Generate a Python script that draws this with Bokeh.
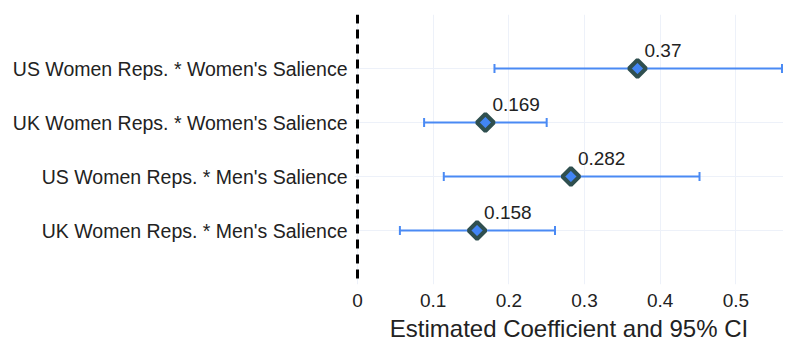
import math
from bokeh.plotting import figure
from bokeh.models import Range1d, FixedTicker, Span, ColumnDataSource
from bokeh.core.properties import value
from bokeh.embed import file_html
from bokeh.resources import INLINE

labels = ["US Women Reps. * Women's Salience",
          "UK Women Reps. * Women's Salience",
          "US Women Reps. * Men's Salience",
          "UK Women Reps. * Men's Salience"]
estimates = [0.37, 0.169, 0.282, 0.158]
ci_low = [0.181, 0.088, 0.114, 0.056]
ci_high = [0.561, 0.250, 0.452, 0.261]
x_ticks = [0, 0.1, 0.2, 0.3, 0.4, 0.5]
x_tick_labels = ["0", "0.1", "0.2", "0.3", "0.4", "0.5"]

n = len(labels)
ypos = [n - i for i in range(n)]

FONT = "Liberation Sans"
TXT = "#222222"
BLUE = "#4a8af4"
DARK = "#2f4f4f"
GRID = "#edf1f9"

src = ColumnDataSource(dict(
    y=ypos, est=estimates, lo=ci_low, hi=ci_high,
    txt=[f"{v:g}" for v in estimates],
))

p = figure(width=783, height=344, output_backend="svg", toolbar_location=None,
           x_range=Range1d(-0.004, 0.563), y_range=Range1d(0, n + 1),
           min_border_left=354, min_border_right=0, min_border_top=14,
           min_border_bottom=10)
p.outline_line_color = None
p.background_fill_color = "white"
p.border_fill_color = "white"

# axes
p.xaxis.ticker = FixedTicker(ticks=x_ticks)
p.xaxis.major_label_overrides = {t: l for t, l in zip(x_ticks, x_tick_labels)}
p.xaxis.axis_line_color = None
p.xaxis.major_tick_line_color = None
p.xaxis.minor_tick_line_color = None
p.xaxis.major_tick_out = 0
p.xaxis.major_tick_in = 0
p.xaxis.major_label_standoff = 9
p.xaxis.major_label_text_font = FONT
p.xaxis.major_label_text_font_size = "19px"
p.xaxis.major_label_text_color = TXT
p.xaxis.axis_label = "Estimated Coefficient and 95% CI"
p.xaxis.axis_label_text_font = FONT
p.xaxis.axis_label_text_font_size = "24px"
p.xaxis.axis_label_text_font_style = "normal"
p.xaxis.axis_label_text_color = TXT
p.xaxis.axis_label_standoff = 5

p.yaxis.ticker = FixedTicker(ticks=ypos)
p.yaxis.major_label_overrides = {y: l for y, l in zip(ypos, labels)}
p.yaxis.axis_line_color = None
p.yaxis.major_tick_line_color = None
p.yaxis.minor_tick_line_color = None
p.yaxis.major_tick_out = 0
p.yaxis.major_tick_in = 0
p.yaxis.major_label_standoff = 7
p.yaxis.major_label_text_font = FONT
p.yaxis.major_label_text_font_size = "19.5px"
p.yaxis.major_label_text_color = TXT

p.xgrid.grid_line_color = GRID
p.ygrid.grid_line_color = GRID
p.xgrid.grid_line_width = 1
p.ygrid.grid_line_width = 1

# zero line
p.add_layout(Span(location=0, dimension="height", line_color="black",
                  line_width=3, line_dash="9 6"))

# error bars
p.segment(x0="lo", y0="y", x1="hi", y1="y", source=src,
          line_color=BLUE, line_width=2)
p.scatter(x="lo", y="y", source=src, marker="dash", angle=math.pi / 2,
          size=9, line_color=BLUE, line_width=2)
p.scatter(x="hi", y="y", source=src, marker="dash", angle=math.pi / 2,
          size=9, line_color=BLUE, line_width=2)

# point estimates
p.scatter(x="est", y="y", source=src, marker="square", angle=math.pi / 4,
          size=12, fill_color="#4285f4", line_color=DARK, line_width=4)

# value labels
p.text(x="est", y="y", text="txt", source=src, x_offset=7, y_offset=-18,
       text_font=value(FONT), text_font_size="19px", text_color=TXT,
       text_baseline="alphabetic", text_align="left")

open("out.html", "w").write(file_html(p, INLINE))
